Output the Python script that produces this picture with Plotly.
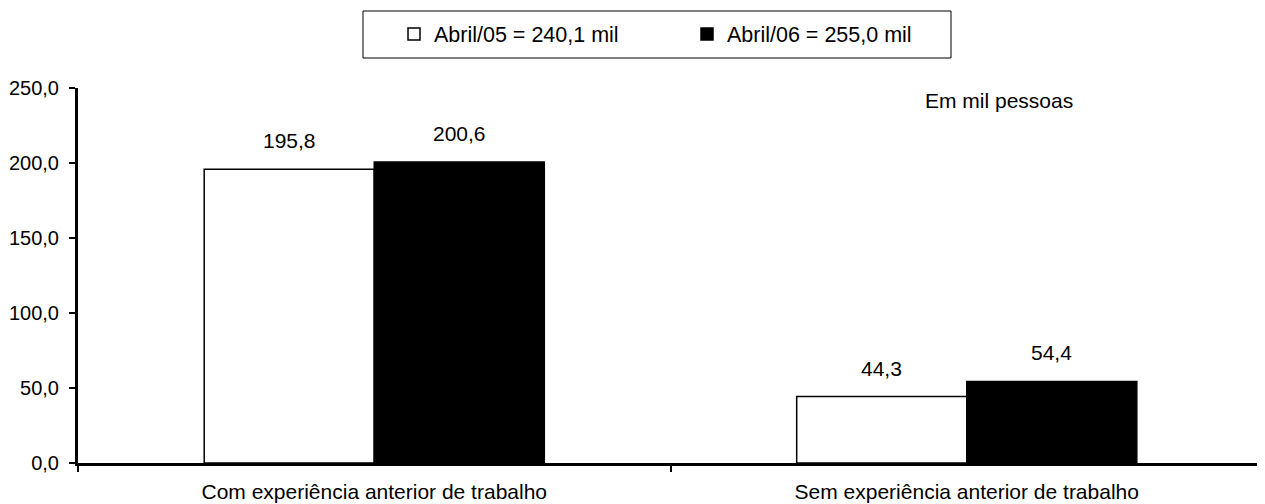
import plotly.graph_objects as go

categories = ["Com experiência anterior de trabalho", "Sem experiência anterior de trabalho"]
series_names = ["Abril/05 = 240,1 mil", "Abril/06 = 255,0 mil"]
values_05 = [195.8, 44.3]
values_06 = [200.6, 54.4]
y_ticks = [0, 50, 100, 150, 200, 250]
note_text = "Em mil pessoas"

FONT = "Liberation Sans, Arial, sans-serif"
OFF = 8  # page body margin
W, H = 1265 - OFF, 504 - OFF
ML, MR, MT, MB = 78 - OFF, 2, 88 - OFF, 41
pw, ph = W - ML - MR, H - MT - MB


def px(xp):
    return (xp - OFF - ML) / pw


def py(yp):
    return (H - MB - (yp - OFF)) / ph


fig = go.Figure()
fig.add_trace(go.Bar(
    x=categories, y=values_05, name=series_names[0],
    marker=dict(color="white", line=dict(color="black", width=1.5)),
))
fig.add_trace(go.Bar(
    x=categories, y=values_06, name=series_names[1],
    marker=dict(color="black", line=dict(color="black", width=1.5)),
))

BARGAP = 0.426
half = pw / len(categories) * (1 - BARGAP) / 4
for vals, sh in ((values_05, -half), (values_06, half)):
    for c, v in zip(categories, vals):
        fig.add_annotation(
            x=c, y=v, xref="x", yref="y", text=f"{v:.1f}".replace(".", ","),
            showarrow=False, xshift=sh, yshift=15, yanchor="bottom",
            font=dict(family=FONT, size=21, color="black"),
        )

fig.add_annotation(
    x=px(1075), y=py(100), xref="paper", yref="paper", text=note_text,
    showarrow=False, xanchor="right", yanchor="middle",
    font=dict(family=FONT, size=21, color="black"),
)

fig.add_shape(
    type="rect", xref="paper", yref="paper",
    x0=px(363), x1=px(951), y0=py(58), y1=py(11),
    line=dict(color="black", width=1), fillcolor="rgba(0,0,0,0)",
)

fig.update_layout(
    width=W, height=H,
    margin=dict(l=ML, r=MR, t=MT, b=MB, autoexpand=False),
    paper_bgcolor="white", plot_bgcolor="white",
    separators=",.",
    barmode="group", bargap=BARGAP, bargroupgap=0,
    font=dict(family=FONT, size=21, color="black"),
    showlegend=True,
    legend=dict(
        orientation="h", x=px(394), xanchor="left",
        y=py(34), yanchor="middle",
        font=dict(family=FONT, size=21.5, color="black"),
        entrywidth=248, itemwidth=30, bgcolor="rgba(0,0,0,0)",
        borderwidth=0,
    ),
    xaxis=dict(
        type="category", tickson="boundaries", ticks="outside",
        ticklen=6, tickwidth=2, tickcolor="black",
        showline=True, linecolor="black", linewidth=3,
        showgrid=False, zeroline=False, ticklabelstandoff=8,
        tickfont=dict(family=FONT, size=21, color="black"),
        fixedrange=True, automargin=False,
    ),
    yaxis=dict(
        range=[0, 250], tickvals=y_ticks, tickformat=".1f",
        ticks="outside", ticklen=6, tickwidth=2, tickcolor="black",
        showline=True, linecolor="black", linewidth=3,
        showgrid=False, zeroline=False, ticklabelstandoff=6,
        tickfont=dict(family=FONT, size=20, color="black"),
        fixedrange=True, automargin=False,
    ),
)

fig.write_html("out.html")
